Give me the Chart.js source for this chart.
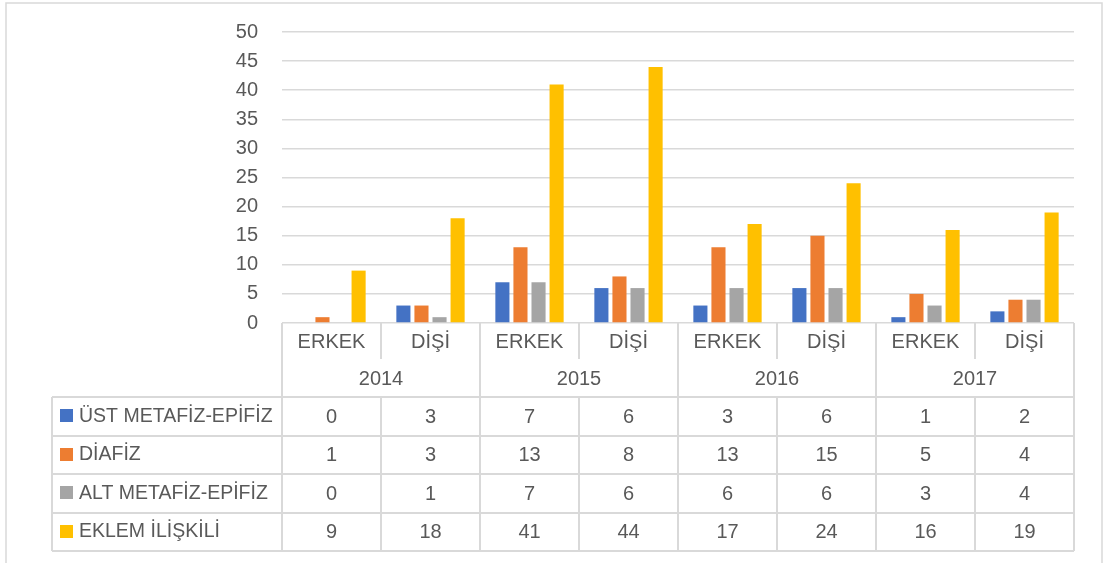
<!DOCTYPE html>
<html><head><meta charset="utf-8">
<script src="https://cdn.jsdelivr.net/npm/chart.js@4.4.0/dist/chart.umd.min.js"></script>
<style>html,body{margin:0;padding:0;background:#fff;}canvas{display:block;}</style>
</head><body>
<canvas id="c" width="1103" height="563"></canvas>
<script>
const categories = ["ERKEK","DİŞİ","ERKEK","DİŞİ","ERKEK","DİŞİ","ERKEK","DİŞİ"];
const years = ["2014","2015","2016","2017"];
const seriesNames = ["ÜST METAFİZ-EPİFİZ","DİAFİZ","ALT METAFİZ-EPİFİZ","EKLEM İLİŞKİLİ"];
const ustMetafiz = [0,3,7,6,3,6,1,2];
const diafiz = [1,3,13,8,13,15,5,4];
const altMetafiz = [0,1,7,6,6,6,3,4];
const eklem = [9,18,41,44,17,24,16,19];
const yTicks = [0,5,10,15,20,25,30,35,40,45,50];

const colors = ["#4472C4","#ED7D31","#A5A5A5","#FFC000"];
const seriesValues = [ustMetafiz, diafiz, altMetafiz, eklem];
const FONT = '"Liberation Sans", Arial, sans-serif';
const TXT = '#595959';
const LINE = '#d9d9d9';

const tablePlugin = {
  id: 'dataTable',
  afterDraw(chart) {
    const ctx = chart.ctx;
    const xs = chart.scales.x;
    const ca = chart.chartArea;
    const n = categories.length;
    const cw = xs.width / n;
    const top = ca.bottom;
    const left0 = xs.left, right0 = xs.right;
    const rowCat = top + 38, rowYear = top + 74;
    const rowH = [38.5, 38.5, 38.5, 38.5];
    const legendLeft = 52;
    ctx.save();
    ctx.strokeStyle = LINE;
    ctx.beginPath();
    ctx.rect(6, 3, 1096, 580);
    ctx.lineWidth = 1.5;
    ctx.stroke();
    ctx.lineWidth = 2;
    ctx.beginPath();
    for (let i = 0; i <= n; i++) {
      const x = Math.round(left0 + i * cw);
      if (i % 2 === 0) { ctx.moveTo(x, top); ctx.lineTo(x, rowYear); }
      else { ctx.moveTo(x, top); ctx.lineTo(x, rowCat - 2); }
    }
    ctx.stroke();
    let y = rowYear;
    const ys = [y];
    for (const h of rowH) { y += h; ys.push(y); }
    ctx.beginPath();
    for (const yy of ys) { ctx.moveTo(legendLeft, Math.round(yy)); ctx.lineTo(right0, Math.round(yy)); }
    ctx.moveTo(legendLeft, ys[0]); ctx.lineTo(legendLeft, ys[ys.length-1]);
    for (let i = 0; i <= n; i++) {
      const x = Math.round(left0 + i * cw);
      ctx.moveTo(x, ys[0]); ctx.lineTo(x, ys[ys.length-1]);
    }
    ctx.stroke();
    ctx.fillStyle = TXT;
    ctx.font = '20px ' + FONT;
    ctx.textAlign = 'center';
    ctx.textBaseline = 'middle';
    for (let i = 0; i < n; i++) {
      ctx.fillText(categories[i], xs.getPixelForValue(i), top + 19);
    }
    for (let j = 0; j < years.length; j++) {
      ctx.fillText(years[j], left0 + (2 * j + 1) * cw, top + 56);
    }
    for (let s = 0; s < seriesValues.length; s++) {
      const cy = (ys[s] + ys[s+1]) / 2;
      ctx.font = '20px ' + FONT;
      for (let i = 0; i < n; i++) {
        ctx.fillText(String(seriesValues[s][i]), xs.getPixelForValue(i), cy + 1);
      }
      ctx.fillStyle = colors[s];
      ctx.fillRect(60, Math.round(cy - 7), 13, 13);
      ctx.fillStyle = TXT;
      ctx.textAlign = 'left';
      ctx.font = '19.5px ' + FONT;
      ctx.fillText(seriesNames[s], 79, cy);
      ctx.textAlign = 'center';
    }
    ctx.restore();
  }
};

new Chart(document.getElementById('c'), {
  type: 'bar',
  data: {
    labels: categories,
    datasets: seriesNames.map((name, s) => ({
      label: name,
      data: seriesValues[s],
      backgroundColor: colors[s],
      borderWidth: 0,
      categoryPercentage: 0.73,
      barPercentage: 0.78
    }))
  },
  options: {
    responsive: false,
    animation: false,
    layout: { padding: { top: 32, right: 29, left: 0, bottom: 0 } },
    plugins: { legend: { display: false }, tooltip: { enabled: false } },
    scales: {
      x: {
        grid: { display: false, drawTicks: false },
        border: { display: false },
        ticks: { display: false },
        afterFit(scale) { scale.height = 240; }
      },
      y: {
        min: 0, max: 50,
        afterBuildTicks(scale) { scale.ticks = yTicks.map(v => ({ value: v })); },
        grid: { color: LINE, lineWidth: 1.5, drawTicks: false },
        border: { display: false },
        ticks: { color: TXT, font: { size: 20, family: FONT }, padding: 24 },
        afterFit(scale) { scale.width = 282; scale.paddingTop = 0; scale.paddingBottom = 0; }
      }
    }
  },
  plugins: [tablePlugin]
});
</script>
</body></html>
